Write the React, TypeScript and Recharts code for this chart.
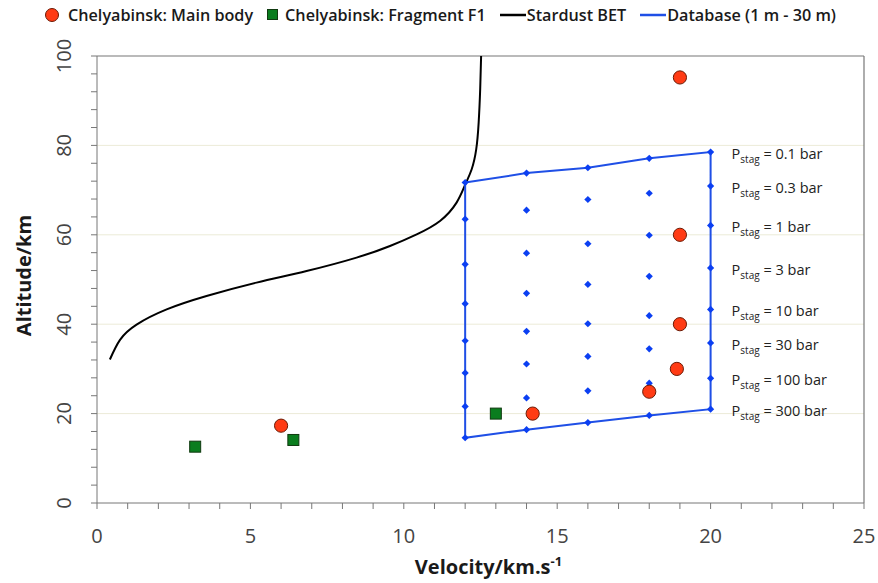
import React from "react";
import {
  ComposedChart,
  Line,
  Scatter,
  XAxis,
  YAxis,
  ReferenceLine,
  Label,
} from "recharts";

// axis ticks (minor + major, labels only on majors)
const xTicks = [0, 1, 2, 3, 4, 5, 6, 7, 8, 9, 10, 11, 12, 13, 14, 15, 16, 17, 18, 19, 20, 21, 22, 23, 24, 25];
const yTicks = [0, 4, 8, 12, 16, 20, 24, 28, 32, 36, 40, 44, 48, 52, 56, 60, 64, 68, 72, 76, 80, 84, 88, 92, 96, 100];
const gridValues = [20, 40, 60, 80];

// Chelyabinsk observations (velocity km/s, altitude km)
const mainBody = [
  { v: 6.0, alt: 17.3 },
  { v: 14.2, alt: 20.0 },
  { v: 18.0, alt: 24.9 },
  { v: 18.9, alt: 30.0 },
  { v: 19.0, alt: 40.0 },
  { v: 19.0, alt: 60.0 },
  { v: 19.0, alt: 95.2 },
];
const fragmentF1 = [
  { v: 3.2, alt: 12.6 },
  { v: 6.4, alt: 14.1 },
  { v: 13.0, alt: 20.0 },
];

const stardust = [
  { v: 0.42, alt: 32.1 },
  { v: 0.75, alt: 36.5 },
  { v: 1.29, alt: 39.9 },
  { v: 2.27, alt: 43.3 },
  { v: 3.57, alt: 46.3 },
  { v: 5.2, alt: 49.3 },
  { v: 6.83, alt: 51.9 },
  { v: 8.46, alt: 54.9 },
  { v: 9.55, alt: 57.5 },
  { v: 10.42, alt: 60.1 },
  { v: 11.18, alt: 63.1 },
  { v: 11.72, alt: 67.2 },
  { v: 12.0, alt: 71.2 },
  { v: 12.21, alt: 74.6 },
  { v: 12.36, alt: 79.1 },
  { v: 12.44, alt: 85.1 },
  { v: 12.49, alt: 92.6 },
  { v: 12.52, alt: 100 },
];

// database grid: one altitude list per velocity, rows = stagnation pressure
const dbVelocity = [12, 14, 16, 18, 20];
const pressureLabels = ["0.1", "0.3", "1", "3", "10", "30", "100", "300"];
const dbAlt12 = [71.7, 63.5, 53.4, 44.6, 36.3, 29.1, 21.6, 14.6];
const dbAlt14 = [73.8, 65.5, 55.9, 46.9, 38.4, 31.1, 23.5, 16.4];
const dbAlt16 = [75.0, 67.9, 58.0, 48.9, 40.1, 32.8, 25.1, 18.0];
const dbAlt18 = [77.1, 69.3, 59.9, 50.7, 41.9, 34.5, 26.8, 19.6];
const dbAlt20 = [78.5, 70.9, 62.1, 52.6, 43.3, 35.8, 27.9, 21.0];
const dbColumns = [dbAlt12, dbAlt14, dbAlt16, dbAlt18, dbAlt20];

const dbPoints = dbColumns.flatMap((col, i) =>
  col.map((alt) => ({ v: dbVelocity[i], alt }))
);

// perimeter of the database envelope, closed
const last = dbColumns.length - 1;
const nRows = pressureLabels.length;
const outline = [
  ...dbColumns.map((col, i) => ({ v: dbVelocity[i], alt: col[0] })),
  ...dbAlt20.slice(1).map((alt) => ({ v: dbVelocity[last], alt })),
  ...dbColumns
    .map((col, i) => ({ v: dbVelocity[i], alt: col[nRows - 1] }))
    .reverse()
    .slice(1),
  ...dbAlt12
    .slice(0, nRows - 1)
    .reverse()
    .map((alt) => ({ v: dbVelocity[0], alt })),
];

const pressurePoints = dbAlt20.map((alt, i) => ({
  v: dbVelocity[last],
  alt,
  p: pressureLabels[i],
}));

const FONT = "'Open Sans', sans-serif";
const BLUE = "#1f4fe6";
const RED = "#ff3b14";
const GREEN = "#0a7d1e";

const Diamond = (props: any) => {
  const { cx, cy } = props;
  const r = 3.6;
  return (
    <polygon
      points={`${cx},${cy - r} ${cx + r},${cy} ${cx},${cy + r} ${cx - r},${cy}`}
      fill="#0b3ff2"
    />
  );
};

const RedDot = (props: any) => (
  <circle cx={props.cx} cy={props.cy} r={6.6} fill={RED} stroke="#6b1a05" strokeWidth={1} />
);

const GreenSquare = (props: any) => (
  <rect x={props.cx - 5.5} y={props.cy - 5.5} width={11} height={11} fill={GREEN} stroke="#103a10" strokeWidth={1} />
);

const PressureLabel = (props: any) => {
  const { cx, cy, payload } = props;
  return (
    <text x={cx + 21} y={cy + 7} fontSize={14.5} fill="#222" fontFamily={FONT}>
      <tspan>P</tspan>
      <tspan dy={4} fontSize={10}>stag</tspan>
      <tspan dy={-4}>{` = ${payload.p} bar`}</tspan>
    </text>
  );
};

const XTick = (props: any) => {
  const { x, y, payload } = props;
  if (payload.value % 5 !== 0) return null;
  return (
    <text x={x} y={y + 32} textAnchor="middle" fontSize={20} fill="#444" fontFamily={FONT}>
      {payload.value}
    </text>
  );
};

const YTick = (props: any) => {
  const { y, payload } = props;
  if (payload.value % 20 !== 0) return null;
  const cx = 64;
  return (
    <text
      x={cx}
      y={y}
      dy="0.35em"
      textAnchor="middle"
      fontSize={20}
      fill="#444"
      fontFamily={FONT}
      transform={`rotate(-90, ${cx}, ${y})`}
    >
      {payload.value}
    </text>
  );
};

const legendItems = [
  { label: "Chelyabinsk: Main body", kind: "circle" },
  { label: "Chelyabinsk: Fragment F1", kind: "square" },
  { label: "Stardust BET", kind: "black" },
  { label: "Database (1 m - 30 m)", kind: "blue" },
];

const LegendMarker = ({ kind }: { kind: string }) => {
  if (kind === "circle")
    return (
      <svg width={16} height={16} style={{ marginRight: 8 }}>
        <circle cx={8} cy={8} r={6.5} fill={RED} stroke="#6b1a05" />
      </svg>
    );
  if (kind === "square")
    return (
      <svg width={12} height={12} style={{ marginRight: 6 }}>
        <rect x={0.5} y={0.5} width={10} height={10} fill={GREEN} stroke="#103a10" />
      </svg>
    );
  return (
    <svg width={26} height={10} style={{ marginRight: 1 }}>
      <line x1={0} y1={5} x2={26} y2={5} stroke={kind === "black" ? "#000" : BLUE} strokeWidth={2.5} />
    </svg>
  );
};

export default function App() {
  return (
    <div style={{ position: "absolute", left: 0, top: 0, width: 878, height: 583, background: "#fff", fontFamily: FONT }}>
      <div
        style={{
          position: "absolute",
          left: 44,
          top: 4,
          display: "flex",
          alignItems: "center",
          gap: 14,
          fontSize: 16.2,
          fontWeight: 600,
          color: "#1a1a1a",
          whiteSpace: "nowrap",
        }}
      >
        {legendItems.map((it) => (
          <div key={it.label} style={{ display: "flex", alignItems: "center" }}>
            <LegendMarker kind={it.kind} />
            <span>{it.label}</span>
          </div>
        ))}
      </div>
      <ComposedChart
        width={878}
        height={583}
        margin={{ top: 56, right: 14, bottom: 0, left: 0 }}
      >
        <XAxis
          type="number"
          dataKey="v"
          domain={[0, 25]}
          ticks={xTicks}
          interval={0}
          tickSize={6}
          tickMargin={2}
          height={80}
          stroke="#777"
          tick={<XTick />}
        >
          <Label
            content={(p: any) => {
              const vb = p.viewBox;
              return (
                <text
                  x={vb.x + vb.width / 2 + 8}
                  y={vb.y + 71}
                  textAnchor="middle"
                  fontSize={20}
                  fontWeight={700}
                  fill="#1a1a1a"
                  fontFamily={FONT}
                >
                  <tspan>Velocity/km.s</tspan>
                  <tspan dy={-8} fontSize={13}>-1</tspan>
                </text>
              );
            }}
          />
        </XAxis>
        <YAxis
          type="number"
          dataKey="alt"
          domain={[0, 100]}
          ticks={yTicks}
          interval={0}
          tickSize={6}
          width={97}
          stroke="#777"
          tick={<YTick />}
        >
          <Label
            content={(p: any) => {
              const vb = p.viewBox;
              const cy = vb.y + vb.height / 2 - 4;
              const cx = 24;
              return (
                <text
                  x={cx}
                  y={cy}
                  dy="0.35em"
                  textAnchor="middle"
                  fontSize={20}
                  fontWeight={700}
                  fill="#1a1a1a"
                  fontFamily={FONT}
                  transform={`rotate(-90, ${cx}, ${cy})`}
                >
                  Altitude/km
                </text>
              );
            }}
          />
        </YAxis>
        {gridValues.map((g) => (
          <ReferenceLine key={g} y={g} stroke="#ecebd8" strokeWidth={1} />
        ))}
        <ReferenceLine y={100} stroke="#777" strokeWidth={1.2} />
        <ReferenceLine x={25} stroke="#777" strokeWidth={1.2} />
        <Line
          data={stardust}
          dataKey="alt"
          type="natural"
          stroke="#000"
          strokeWidth={2}
          dot={false}
          isAnimationActive={false}
        />
        <Line
          data={outline}
          dataKey="alt"
          type="linear"
          stroke={BLUE}
          strokeWidth={2}
          dot={false}
          isAnimationActive={false}
        />
        <Scatter data={dbPoints} dataKey="alt" shape={Diamond} isAnimationActive={false} />
        <Scatter data={pressurePoints} dataKey="alt" shape={PressureLabel} isAnimationActive={false} />
        <Scatter data={fragmentF1} dataKey="alt" shape={GreenSquare} isAnimationActive={false} />
        <Scatter data={mainBody} dataKey="alt" shape={RedDot} isAnimationActive={false} />
      </ComposedChart>
    </div>
  );
}
